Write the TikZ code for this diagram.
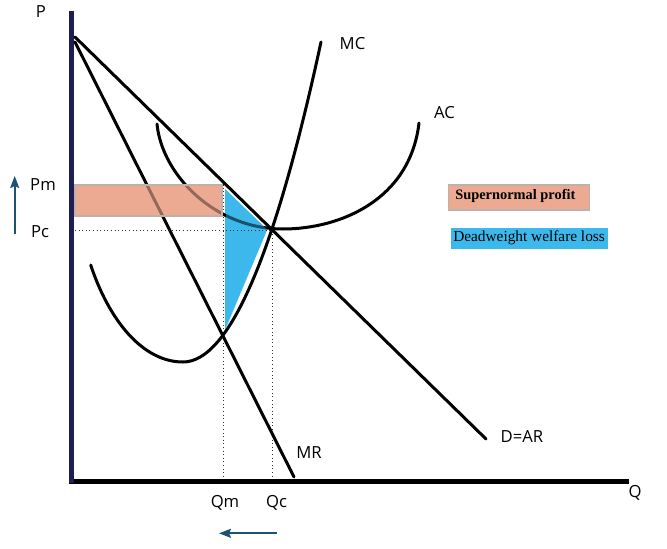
\documentclass[tikz,border=0pt]{standalone}
\usepackage{fontspec}
\setmainfont{Open Sans}
\newfontfamily\legfont{Liberation Serif}
\usetikzlibrary{arrows.meta}
\definecolor{axisnavy}{RGB}{30,30,85}
\definecolor{arrowblue}{RGB}{28,82,116}
\definecolor{profitpink}{RGB}{236,170,146}
\definecolor{dwlblue}{RGB}{61,184,236}
\definecolor{boxgrey}{RGB}{190,176,170}
\tikzset{
  curve/.style={line width=2.25pt, black, line cap=round},
  axisline/.style={line width=3.75pt},
  guide/.style={line width=0.7pt, dotted, black!80},
  lab/.style={font=\fontsize{12.5}{14}\selectfont, inner sep=0pt},
  move/.style={arrowblue, line width=1.5pt, -{Stealth[length=9pt, width=6.75pt, inset=1.5pt]}},
}
\begin{document}
\begin{tikzpicture}[x=0.75pt, y=-0.75pt]
\useasboundingbox (0,0) rectangle (667,549);
% fills (opaque base)
\fill[profitpink] (75,185) rectangle (222,216);
\fill[dwlblue] (225,188) -- (268,229.5) -- (225,331) -- cycle;
\draw[white, line width=0.75pt] (225,188) -- (268,229.5) -- (225,331);
% guides
\coordinate (pmL) at (75,184.5);
\coordinate (pmR) at (223,184.5);
\coordinate (pcL) at (75,230.3);
\coordinate (pcR) at (272.5,230.3);
\coordinate (qmB) at (223,479);
\coordinate (qcB) at (272.5,479);
\draw[guide] (pmL) -- (pmR) -- (qmB);
\draw[guide] (pcL) -- (pcR) -- (qcB);
% axes
\coordinate (o) at (71.5,481);
\coordinate (ytop) at (71.5,11);
\coordinate (xend) at (629,481);
\draw[axisline, black] (69,481) -- (xend);
\draw[axisline, axisnavy] (ytop) -- (71.5,483);
% curves
\coordinate (dS) at (75,37);
\coordinate (dE) at (486,439);
\coordinate (mrS) at (75,42);
\coordinate (mrE) at (294,477);
\draw[curve] (dS) -- (dE);
\draw[curve] (mrS) -- (mrE);
\coordinate (mcS) at (90.7,265);
\coordinate (mcMin) at (183,362);
\coordinate (mcE) at (321,42);
\draw[curve] (mcS) .. controls (109.3,321) and (143,362) .. (mcMin)
  .. controls (229,362) and (275,255.3) .. (mcE);
\coordinate (acS) at (157,124);
\coordinate (acMin) at (283,229);
\coordinate (acE) at (419,123);
\draw[curve] (acS) .. controls (162,175) and (215,229) .. (acMin)
  .. controls (340,229) and (410,200) .. (acE);
% translucent overlays so lines show through subdued
\fill[profitpink, opacity=0.62] (75,185) rectangle (222,216);
\draw[boxgrey, line width=0.9pt] (75,185) rectangle (222,216);
\fill[dwlblue, opacity=0.45] (226,190) -- (267,229.5) -- (226,329) -- cycle;
\draw[guide] (pcL) -- (pcR);
% labels
\node[lab] (P) at (41,12) {P};
\node[lab] (Q) at (635,492.5) {Q};
\node[lab] (MC) at (352.5,43.5) {MC};
\node[lab] (AC) at (444.5,113) {AC};
\node[lab] (DAR) at (522,437) {D=AR};
\node[lab] (MR) at (309,453) {MR};
\node[lab, anchor=base] (Qm) at (225,507) {Qm};
\node[lab, anchor=base] (Qc) at (276.7,507) {Qc};
\node[lab, anchor=base] (Pm) at (43,190.5) {Pm};
\node[lab, anchor=base] (Pc) at (40,237.5) {Pc};
% movement arrows
\coordinate (upB) at (14.7,234);
\coordinate (upT) at (14.7,176);
\draw[move] (upB) -- (upT);
\coordinate (lfR) at (277,533.3);
\coordinate (lfL) at (219,533.3);
\draw[move] (lfR) -- (lfL);
% legend
\node[draw=boxgrey, line width=0.9pt, fill=profitpink, minimum width=105.75pt, minimum height=18.75pt, inner sep=0pt] (lp) at (519,197.5) {};
\node[anchor=west, inner sep=0pt, font=\legfont\bfseries\fontsize{10.8}{12}\selectfont] (lpt) at (455,196) {Supernormal profit};
\node[fill=dwlblue, minimum width=117.75pt, minimum height=15.75pt, inner sep=0pt] (ld) at (529.5,238.5) {};
\node[anchor=west, inner sep=0pt, font=\legfont\fontsize{11.5}{13}\selectfont] (ldt) at (453,238) {Deadweight welfare loss};
\end{tikzpicture}
\end{document}
